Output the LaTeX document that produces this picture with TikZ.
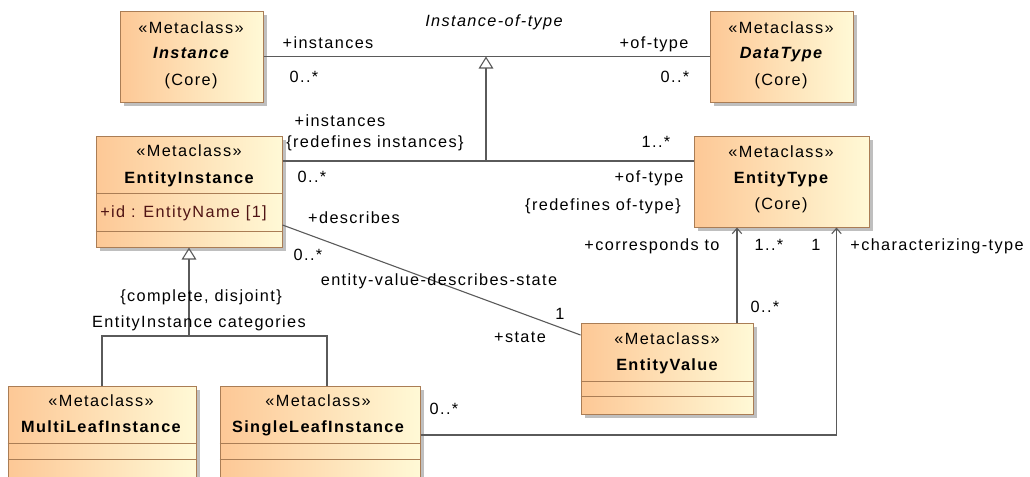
\documentclass[tikz,border=0pt]{standalone}
\usepackage{fontspec}
\setmainfont[LetterSpace=8.5]{Liberation Sans}
\usetikzlibrary{positioning,shadows,arrows.meta}

\newlength\px
\setlength\px{0.75pt}
\newcommand\umlfont{\fontsize{12.2}{14}\selectfont}

\definecolor{clsorange}{RGB}{253,200,150}
\definecolor{clsyellow}{RGB}{255,249,214}
\definecolor{clsborder}{RGB}{170,125,85}
\definecolor{linegray}{RGB}{90,90,90}
\definecolor{attrbrown}{RGB}{80,20,20}

\begin{document}
\begin{tikzpicture}[x=0.75pt, y=-0.75pt,
  metaclass/.style={draw=clsborder, line width=1\px, left color=clsorange, right color=clsyellow,
    drop shadow={shadow xshift=3pt, shadow yshift=-3pt, fill=black!25, opacity=1}, inner sep=0pt},
  compart/.style={draw=clsborder, line width=1\px},
  txt/.style={inner sep=0pt, text height=1.5ex, text depth=0.25ex, font=\umlfont},
  clsname/.style={txt, font=\umlfont\bfseries},
  assoc/.style={draw=linegray, line width=1.1\px},
  genarrow/.style={assoc, -{Triangle[open, length=9pt, width=11pt]}},
  navarrow/.style={assoc, -{Straight Barb[length=4pt, width=7pt]}}]
\useasboundingbox (0,0) rectangle (1030,476);

\node[metaclass, minimum width=143\px, minimum height=91\px] (inst) at (191.5,56.5) {};
\node[metaclass, minimum width=143\px, minimum height=91\px] (dtype) at (781.5,56.5) {};
\node[metaclass, minimum width=186\px, minimum height=111\px] (eninst) at (189,191.5) {};
\node[metaclass, minimum width=175\px, minimum height=91\px] (entype) at (781.5,181.5) {};
\node[metaclass, minimum width=172\px, minimum height=91\px] (enval) at (667,368.5) {};
\node[metaclass, minimum width=188\px, minimum height=108\px] (multi) at (102,440) {};
\node[metaclass, minimum width=200\px, minimum height=108\px] (single) at (320,440) {};

\draw[compart] ([yshift=-58\px]eninst.north west) -- ([yshift=-58\px]eninst.north east);
\draw[compart] ([yshift=-96\px]eninst.north west) -- ([yshift=-96\px]eninst.north east);
\draw[compart] ([yshift=-59\px]enval.north west) -- ([yshift=-59\px]enval.north east);
\draw[compart] ([yshift=-74\px]enval.north west) -- ([yshift=-74\px]enval.north east);
\draw[compart] ([yshift=-58\px]multi.north west) -- ([yshift=-58\px]multi.north east);
\draw[compart] ([yshift=-74\px]multi.north west) -- ([yshift=-74\px]multi.north east);
\draw[compart] ([yshift=-58\px]single.north west) -- ([yshift=-58\px]single.north east);
\draw[compart] ([yshift=-74\px]single.north west) -- ([yshift=-74\px]single.north east);

\node[txt] (instst) at (191,29) {«Metaclass»};
\node[clsname, font=\umlfont\bfseries\itshape] (instnm) at (191,54) {Instance};
\node[txt] (instpk) at (191,81) {(Core)};
\node[txt] (dtypest) at (781,29) {«Metaclass»};
\node[clsname, font=\umlfont\bfseries\itshape] (dtypenm) at (781,54) {DataType};
\node[txt] (dtypepk) at (781,81) {(Core)};
\node[txt] (eninstst) at (189,152) {«Metaclass»};
\node[clsname] (eninstnm) at (189,179) {EntityInstance};
\node[txt, anchor=west, text=attrbrown] (eninstid) at (100,213) {+id : EntityName [1]};
\node[txt] (entypest) at (781,153) {«Metaclass»};
\node[clsname] (entypenm) at (781,179) {EntityType};
\node[txt] (entypepk) at (781,205) {(Core)};
\node[txt] (envalst) at (667,340) {«Metaclass»};
\node[clsname] (envalnm) at (667,366) {EntityValue};
\node[txt] (multist) at (101,402) {«Metaclass»};
\node[clsname] (multinm) at (101,428) {MultiLeafInstance};
\node[txt] (singlest) at (318,402) {«Metaclass»};
\node[clsname] (singlenm) at (318,428) {SingleLeafInstance};

\coordinate (iotjoin) at (486,56.5);
\coordinate (iotfoot) at (486,161);
\coordinate (gentree) at (189,336);
\draw[assoc] (inst) -- (dtype);
\draw[assoc] (eninst.east |- iotfoot) -- (entype.west |- iotfoot);
\draw[genarrow] (iotfoot) -- (iotjoin);
\draw[assoc] ([yshift=-33.5\px]eninst.east) -- ([yshift=33.5\px]enval.west);
\draw[navarrow] ([xshift=70\px]enval.north) -- ([xshift=70\px]enval.north |- entype.south);
\draw[navarrow] ([yshift=5\px]single.east) -| ([xshift=55\px]entype.south);
\draw[assoc] (multi.north) |- (gentree) -| ([xshift=7\px]single.north);
\draw[genarrow] (gentree) -- (eninst.south);

\node[txt, font=\umlfont\itshape] (liot) at (494,22) {Instance-of-type};
\node[txt] (linsttop) at (328,44) {+instances};
\node[txt] (minsttop) at (304,78) {0..*};
\node[txt] (loftypetop) at (654,44) {+of-type};
\node[txt] (moftypetop) at (675,78) {0..*};
\node[txt] (linstmid) at (340,122) {+instances};
\node[txt] (cinstmid) at (375,143) {\{redefines instances\}};
\node[txt] (minstmid) at (312,178) {0..*};
\node[txt] (moftypemid) at (656,143) {1..*};
\node[txt] (loftypemid) at (649,178) {+of-type};
\node[txt] (coftypemid) at (603,206) {\{redefines of-type\}};
\node[txt] (ldescr) at (354,219) {+describes};
\node[txt] (mdescr) at (308,256) {0..*};
\node[txt] (levds) at (439,281) {entity-value-describes-state};
\node[txt] (mstate) at (560,315) {1};
\node[txt] (lstate) at (520,338) {+state};
\node[txt] (lcorr) at (652,246) {+corresponds to};
\node[txt] (mcorr) at (769,246) {1..*};
\node[txt] (mchar) at (816,246) {1};
\node[txt] (lchar) at (937,246) {+characterizing-type};
\node[txt] (mevcorr) at (765,308) {0..*};
\node[txt] (lcompl) at (201,297) {\{complete, disjoint\}};
\node[txt] (lcateg) at (199,323) {EntityInstance categories};
\node[txt] (msingle) at (444,410) {0..*};
\end{tikzpicture}
\end{document}
